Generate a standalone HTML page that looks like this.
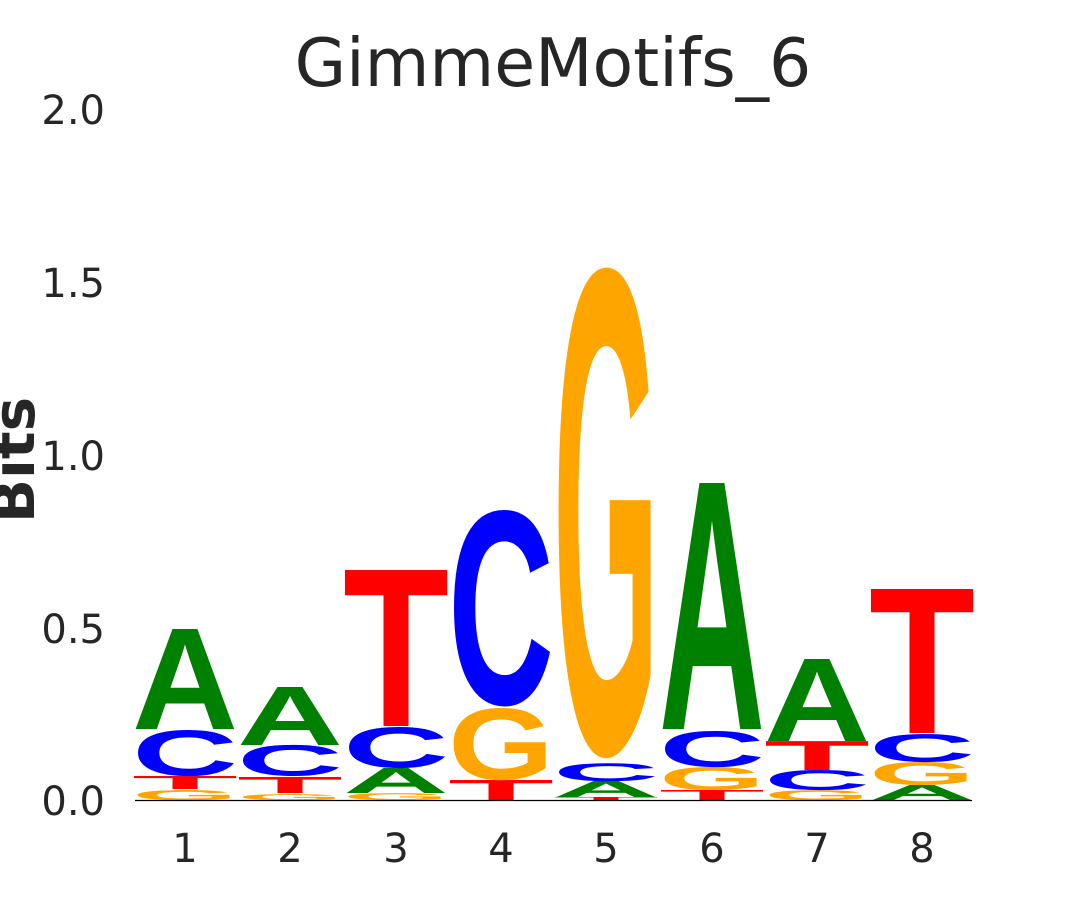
<!DOCTYPE html>
<html><head><meta charset="utf-8"><style>
html,body{margin:0;padding:0;background:#fff;}
svg{display:block;}
.l text{font-family:"Liberation Sans",sans-serif;font-weight:bold;font-size:100px;}
.tk{font-family:"DejaVu Sans",sans-serif;font-size:40px;fill:#262626;}
</style></head><body>
<svg width="1080" height="900" viewBox="0 0 1080 900" xmlns="http://www.w3.org/2000/svg">
<text x="553" y="86" text-anchor="middle" font-family="DejaVu Sans, sans-serif" font-size="66.5" fill="#262626">GimmeMotifs_6</text>
<text transform="translate(34,460) rotate(-90)" text-anchor="middle" font-family="DejaVu Sans, sans-serif" font-size="58" font-weight="bold" fill="#262626">Bits</text>
<g class="tk" text-anchor="end">
<text x="105" y="124">2.0</text>
<text x="105" y="297">1.5</text>
<text x="105" y="470">1.0</text>
<text x="105" y="643">0.5</text>
<text x="105" y="815">0.0</text>
</g>
<g class="tk" text-anchor="middle">
<text x="185" y="862">1</text><text x="290" y="862">2</text><text x="396" y="862">3</text><text x="501" y="862">4</text>
<text x="606" y="862">5</text><text x="712" y="862">6</text><text x="817" y="862">7</text><text x="922" y="862">8</text>
</g>
<g class="l">
<text fill="#ffa500" transform="translate(132,800) scale(1,0.142)" textLength="106" lengthAdjust="spacingAndGlyphs">G</text>
<text fill="#ff0000" transform="translate(132,789) scale(1,0.189)" textLength="106" lengthAdjust="spacingAndGlyphs">T</text>
<text fill="#0000ff" transform="translate(132,775.5) scale(1,0.652)" textLength="106" lengthAdjust="spacingAndGlyphs">C</text>
<text fill="#008000" transform="translate(132,729) scale(1,1.453)" textLength="106" lengthAdjust="spacingAndGlyphs">A</text>
<text fill="#ffa500" transform="translate(237,800) scale(1,0.085)" textLength="106" lengthAdjust="spacingAndGlyphs">G</text>
<text fill="#ff0000" transform="translate(237,793) scale(1,0.233)" textLength="106" lengthAdjust="spacingAndGlyphs">T</text>
<text fill="#0000ff" transform="translate(237,775.6) scale(1,0.44)" textLength="106" lengthAdjust="spacingAndGlyphs">C</text>
<text fill="#008000" transform="translate(237,745) scale(1,0.843)" textLength="106" lengthAdjust="spacingAndGlyphs">A</text>
<text fill="#ffa500" transform="translate(343,800) scale(1,0.099)" textLength="106" lengthAdjust="spacingAndGlyphs">G</text>
<text fill="#008000" transform="translate(343,793) scale(1,0.363)" textLength="106" lengthAdjust="spacingAndGlyphs">A</text>
<text fill="#0000ff" transform="translate(343,767.5) scale(1,0.58)" textLength="106" lengthAdjust="spacingAndGlyphs">C</text>
<text fill="#ff0000" transform="translate(343,726) scale(1,2.267)" textLength="106" lengthAdjust="spacingAndGlyphs">T</text>
<text fill="#ff0000" transform="translate(448,800) scale(1,0.29)" textLength="106" lengthAdjust="spacingAndGlyphs">T</text>
<text fill="#ffa500" transform="translate(448,779.2) scale(1,1.02)" textLength="106" lengthAdjust="spacingAndGlyphs">G</text>
<text fill="#0000ff" transform="translate(448,703.8) scale(1,2.776)" textLength="106" lengthAdjust="spacingAndGlyphs">C</text>
<text fill="#ff0000" transform="translate(553,800) scale(1,0.044)" textLength="106" lengthAdjust="spacingAndGlyphs">T</text>
<text fill="#008000" transform="translate(553,797) scale(1,0.233)" textLength="106" lengthAdjust="spacingAndGlyphs">A</text>
<text fill="#0000ff" transform="translate(553,781) scale(1,0.255)" textLength="106" lengthAdjust="spacingAndGlyphs">C</text>
<text fill="#ffa500" transform="translate(553,751.5) scale(1,6.93)" textLength="106" lengthAdjust="spacingAndGlyphs">G</text>
<text fill="#ff0000" transform="translate(659,800) scale(1,0.145)" textLength="106" lengthAdjust="spacingAndGlyphs">T</text>
<text fill="#ffa500" transform="translate(659,789.7) scale(1,0.326)" textLength="106" lengthAdjust="spacingAndGlyphs">G</text>
<text fill="#0000ff" transform="translate(659,766.6) scale(1,0.51)" textLength="106" lengthAdjust="spacingAndGlyphs">C</text>
<text fill="#008000" transform="translate(659,729) scale(1,3.576)" textLength="106" lengthAdjust="spacingAndGlyphs">A</text>
<text fill="#ffa500" transform="translate(764,800) scale(1,0.142)" textLength="106" lengthAdjust="spacingAndGlyphs">G</text>
<text fill="#0000ff" transform="translate(764,789.8) scale(1,0.283)" textLength="106" lengthAdjust="spacingAndGlyphs">C</text>
<text fill="#ff0000" transform="translate(764,770) scale(1,0.42)" textLength="106" lengthAdjust="spacingAndGlyphs">T</text>
<text fill="#008000" transform="translate(764,741) scale(1,1.192)" textLength="106" lengthAdjust="spacingAndGlyphs">A</text>
<text fill="#008000" transform="translate(869,800) scale(1,0.218)" textLength="106" lengthAdjust="spacingAndGlyphs">A</text>
<text fill="#ffa500" transform="translate(869,784.7) scale(1,0.326)" textLength="106" lengthAdjust="spacingAndGlyphs">G</text>
<text fill="#0000ff" transform="translate(869,761.7) scale(1,0.397)" textLength="106" lengthAdjust="spacingAndGlyphs">C</text>
<text fill="#ff0000" transform="translate(869,733) scale(1,2.093)" textLength="106" lengthAdjust="spacingAndGlyphs">T</text>
</g>
<line x1="135" y1="800.5" x2="972" y2="800.5" stroke="#000" stroke-width="1.2"/>
</svg>
</body></html>
